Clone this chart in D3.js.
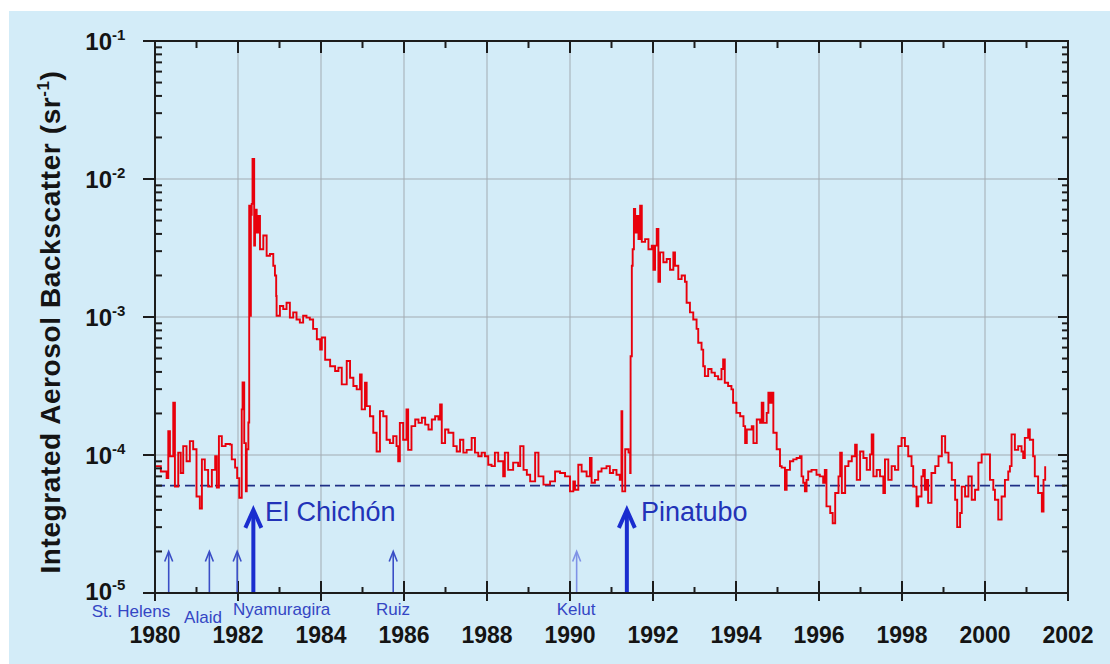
<!DOCTYPE html>
<html>
<head>
<meta charset="utf-8">
<script src="https://cdn.jsdelivr.net/npm/d3@7"></script>
<style>
  html, body { margin: 0; padding: 0; background: #ffffff; }
  svg { display: block; font-family: "Liberation Sans", Arial, sans-serif; }
</style>
</head>
<body>
<svg id="chart" width="1110" height="664"></svg>
<script>
// Stratospheric integrated aerosol backscatter record, 1980-2001
const years = [
  1980.00, 1980.14, 1980.28, 1980.32, 1980.36, 1980.44, 1980.48, 1980.56, 1980.62, 1980.68,
  1980.76, 1980.84, 1980.92, 1981.00, 1981.08, 1981.13, 1981.20, 1981.28, 1981.37, 1981.45,
  1981.49, 1981.54, 1981.61, 1981.70, 1981.81, 1981.85, 1981.93, 1981.98, 1982.03, 1982.09,
  1982.11, 1982.15, 1982.19, 1982.21, 1982.25, 1982.27, 1982.29, 1982.31, 1982.33, 1982.35,
  1982.39, 1982.41, 1982.45, 1982.49, 1982.53, 1982.61, 1982.69, 1982.77, 1982.85, 1982.89,
  1982.92, 1982.93, 1983.01, 1983.09, 1983.17, 1983.25, 1983.33, 1983.41, 1983.49, 1983.57,
  1983.65, 1983.73, 1983.81, 1983.90, 1983.98, 1984.02, 1984.10, 1984.22, 1984.34, 1984.42,
  1984.50, 1984.62, 1984.70, 1984.78, 1984.86, 1984.94, 1984.98, 1985.06, 1985.10, 1985.18,
  1985.26, 1985.34, 1985.42, 1985.50, 1985.58, 1985.66, 1985.74, 1985.82, 1985.86, 1985.90,
  1985.98, 1986.06, 1986.10, 1986.18, 1986.27, 1986.35, 1986.43, 1986.51, 1986.59, 1986.67,
  1986.75, 1986.83, 1986.87, 1986.91, 1986.99, 1987.07, 1987.19, 1987.27, 1987.35, 1987.43,
  1987.51, 1987.63, 1987.71, 1987.79, 1987.87, 1987.95, 1988.03, 1988.11, 1988.19, 1988.27,
  1988.39, 1988.43, 1988.51, 1988.63, 1988.75, 1988.80, 1988.88, 1988.96, 1989.04, 1989.16,
  1989.24, 1989.36, 1989.52, 1989.64, 1989.76, 1989.88, 1990.00, 1990.08, 1990.12, 1990.20,
  1990.28, 1990.40, 1990.48, 1990.52, 1990.60, 1990.68, 1990.76, 1990.88, 1990.96, 1991.04,
  1991.12, 1991.20, 1991.24, 1991.26, 1991.33, 1991.41, 1991.45, 1991.46, 1991.49, 1991.51,
  1991.54, 1991.57, 1991.61, 1991.65, 1991.69, 1991.73, 1991.81, 1991.89, 1991.97, 1992.01,
  1992.05, 1992.09, 1992.13, 1992.17, 1992.25, 1992.33, 1992.41, 1992.49, 1992.53, 1992.61,
  1992.69, 1992.77, 1992.81, 1992.89, 1992.97, 1993.05, 1993.09, 1993.17, 1993.21, 1993.25,
  1993.33, 1993.41, 1993.49, 1993.57, 1993.65, 1993.69, 1993.73, 1993.81, 1993.89, 1993.93,
  1994.01, 1994.10, 1994.18, 1994.22, 1994.26, 1994.38, 1994.42, 1994.50, 1994.58, 1994.62,
  1994.66, 1994.74, 1994.78, 1994.82, 1994.86, 1994.90, 1994.98, 1995.06, 1995.10, 1995.18,
  1995.22, 1995.30, 1995.38, 1995.46, 1995.54, 1995.58, 1995.62, 1995.66, 1995.70, 1995.74,
  1995.82, 1995.94, 1996.02, 1996.10, 1996.14, 1996.18, 1996.27, 1996.33, 1996.39, 1996.47,
  1996.51, 1996.55, 1996.63, 1996.71, 1996.79, 1996.87, 1996.91, 1996.99, 1997.07, 1997.15,
  1997.23, 1997.27, 1997.31, 1997.39, 1997.47, 1997.55, 1997.59, 1997.67, 1997.75, 1997.83,
  1997.91, 1997.99, 1998.07, 1998.15, 1998.23, 1998.27, 1998.35, 1998.39, 1998.47, 1998.51,
  1998.55, 1998.59, 1998.63, 1998.71, 1998.80, 1998.88, 1998.96, 1999.04, 1999.12, 1999.20,
  1999.28, 1999.33, 1999.40, 1999.44, 1999.52, 1999.60, 1999.68, 1999.76, 1999.84, 1999.92,
  2000.04, 2000.12, 2000.20, 2000.24, 2000.32, 2000.40, 2000.48, 2000.56, 2000.60, 2000.64,
  2000.72, 2000.80, 2000.88, 2000.92, 2000.96, 2001.04, 2001.08, 2001.16, 2001.20, 2001.28,
  2001.37, 2001.41, 2001.45
];

const backscatter = [
  8.3e-5, 7.6e-5, 6.8e-5, 1.49e-4, 9.8e-5, 2.39e-4, 5.9e-5, 1.04e-4, 7.4e-5, 1.16e-4,
  9.0e-5, 1.26e-4, 1.1e-4, 5.0e-5, 4.1e-5, 9.3e-5, 7.8e-5, 5.9e-5, 7.8e-5, 9.8e-5,
  5.8e-5, 1.37e-4, 1.16e-4, 1.2e-4, 1.19e-4, 9.3e-5, 8.1e-5, 6.8e-5, 4.9e-5, 2.14e-4,
  3.36e-4, 1.22e-4, 5.45e-5, 1.1e-4, 1.72e-4, 6.4e-3, 1.02e-3, 5.5e-3, 6.6e-3, 1.4e-2,
  3.3e-3, 6.0e-3, 4.1e-3, 5.4e-3, 3.1e-3, 3.9e-3, 2.78e-3, 2.86e-3, 2.35e-3, 2.0e-3,
  1.42e-3, 1.02e-3, 1.2e-3, 1.14e-3, 1.27e-3, 9.9e-4, 1.08e-3, 9.6e-4, 9.1e-4, 1.02e-3,
  9.9e-4, 9.6e-4, 8.2e-4, 6.9e-4, 5.8e-4, 7.1e-4, 4.9e-4, 4.4e-4, 4.06e-4, 4.3e-4,
  3.25e-4, 4.8e-4, 3.63e-4, 3.16e-4, 2.99e-4, 3.84e-4, 2.14e-4, 3.34e-4, 2.26e-4, 1.91e-4,
  1.45e-4, 1.06e-4, 2.08e-4, 1.91e-4, 1.29e-4, 1.22e-4, 1.37e-4, 1.16e-4, 9.0e-5, 1.71e-4,
  1.29e-4, 2.14e-4, 1.09e-4, 1.62e-4, 1.81e-4, 1.71e-4, 1.86e-4, 1.66e-4, 1.53e-4, 1.81e-4,
  1.91e-4, 1.81e-4, 2.32e-4, 1.22e-4, 1.53e-4, 1.45e-4, 1.16e-4, 1.06e-4, 1.29e-4, 1.04e-4,
  1.09e-4, 1.33e-4, 1.04e-4, 9.8e-5, 1.04e-4, 9.8e-5, 8.5e-5, 8.3e-5, 1.04e-4, 9.0e-5,
  7.0e-5, 1.04e-4, 7.8e-5, 8.8e-5, 8.3e-5, 1.16e-4, 7.8e-5, 7.2e-5, 6.44e-5, 1.04e-4,
  7.0e-5, 6.1e-5, 6.44e-5, 7.6e-5, 7.4e-5, 7.0e-5, 5.45e-5, 6.44e-5, 5.6e-5, 8.5e-5,
  7.6e-5, 7.0e-5, 9.5e-5, 6.3e-5, 6.6e-5, 7.6e-5, 8.0e-5, 8.3e-5, 7.4e-5, 7.8e-5,
  7.2e-5, 6.6e-5, 2.08e-4, 5.45e-5, 1.1e-4, 1.04e-4, 7.4e-5, 5.2e-4, 2.35e-3, 3.1e-3,
  6.07e-3, 4.1e-3, 5.4e-3, 3.67e-3, 6.4e-3, 3.5e-3, 3.67e-3, 3.1e-3, 3.29e-3, 2.2e-3,
  3.29e-3, 4.35e-3, 1.8e-3, 2.94e-3, 2.49e-3, 2.63e-3, 2.2e-3, 2.94e-3, 2.35e-3, 1.88e-3,
  2.0e-3, 1.8e-3, 1.27e-3, 1.08e-3, 9.6e-4, 8.2e-4, 6.5e-4, 5.8e-4, 4.4e-4, 3.73e-4,
  4.2e-4, 3.95e-4, 3.73e-4, 3.53e-4, 4.2e-4, 4.93e-4, 3.34e-4, 3.16e-4, 2.99e-4, 2.39e-4,
  2.02e-4, 1.91e-4, 1.62e-4, 1.22e-4, 1.53e-4, 1.62e-4, 1.22e-4, 1.81e-4, 1.71e-4, 2.39e-4,
  1.71e-4, 2.02e-4, 2.83e-4, 2.39e-4, 2.83e-4, 1.45e-4, 1.1e-4, 8.3e-5, 8.1e-5, 5.6e-5,
  7.8e-5, 9.0e-5, 9.3e-5, 9.5e-5, 9.8e-5, 7.0e-5, 6.3e-5, 5.45e-5, 6.6e-5, 7.6e-5,
  7.8e-5, 7.2e-5, 7.0e-5, 6.3e-5, 7.8e-5, 4.24e-5, 3.8e-5, 3.2e-5, 5.3e-5, 7.0e-5,
  1.04e-4, 5.3e-5, 8.3e-5, 9.0e-5, 9.8e-5, 1.19e-4, 6.6e-5, 1.06e-4, 9.5e-5, 7.8e-5,
  1.01e-4, 1.41e-4, 7.0e-5, 7.8e-5, 7.0e-5, 5.3e-5, 9.3e-5, 6.6e-5, 8.3e-5, 7.8e-5,
  1.16e-4, 1.33e-4, 1.16e-4, 9.8e-5, 8.3e-5, 5.9e-5, 4.24e-5, 5.0e-5, 7.0e-5, 7.8e-5,
  5.6e-5, 6.6e-5, 4.5e-5, 7.4e-5, 8.3e-5, 9.8e-5, 1.37e-4, 1.04e-4, 8.8e-5, 6.6e-5,
  4.74e-5, 3.0e-5, 3.8e-5, 5.9e-5, 5.0e-5, 7.0e-5, 4.74e-5, 5.6e-5, 8.8e-5, 1.01e-4,
  1.01e-4, 6.6e-5, 5.6e-5, 4.74e-5, 3.4e-5, 5.0e-5, 6.6e-5, 7.6e-5, 8.3e-5, 1.41e-4,
  1.09e-4, 1.16e-4, 1.06e-4, 9.5e-5, 1.33e-4, 1.53e-4, 1.29e-4, 9.8e-5, 7.0e-5, 5.3e-5,
  3.9e-5, 6.6e-5, 8.3e-5
];

// Background (non-volcanic) level
const backgroundLevel = 6e-5;

// Eruptions marked along the time axis
const volcanoNames   = ["St. Helens", "Alaid", "Nyamuragira", "El Chichón", "Ruiz", "Kelut", "Pinatubo"];
const eruptionYears  = [1980.33, 1981.31, 1981.98, 1982.37, 1985.74, 1990.16, 1991.37];
const arrowTipValues = [2e-5, 2e-5, 2e-5, 4e-5, 2e-5, 2e-5, 4e-5];
const majorEruption  = [false, false, false, true, false, false, true];

// Axis ticks
const xMajorTicks = d3.range(1980, 2003, 2);
const xMinorTicks = d3.range(1981, 2002, 2);
const yDecades    = [1e-5, 1e-4, 1e-3, 1e-2, 1e-1];
const yExponents  = ["-5", "-4", "-3", "-2", "-1"];

const svg = d3.select("#chart");
const W = 1110, H = 664;
const plot = { left: 155, right: 1068, top: 41, bottom: 593 };

svg.append("rect").attr("x", 0).attr("y", 0).attr("width", W).attr("height", H).attr("fill", "#ffffff");
svg.append("rect").attr("x", 9).attr("y", 11).attr("width", W - 9).attr("height", H - 11).attr("fill", "#d3ecf8");

const x = d3.scaleLinear().domain([1980, 2002]).range([plot.left, plot.right]);
const y = d3.scaleLog().domain([1e-5, 1e-1]).range([plot.bottom, plot.top]);

// minor log ticks 2..9 within each decade
const yMinorTicks = [];
for (let k = -5; k < -1; k++) for (let m = 2; m <= 9; m++) yMinorTicks.push(m * Math.pow(10, k));

const grid = svg.append("g").attr("stroke", "#a2abb2").attr("stroke-width", 1);
grid.selectAll("line.v").data(xMajorTicks.filter(d => d > 1980 && d < 2002)).join("line")
  .attr("x1", d => x(d)).attr("x2", d => x(d)).attr("y1", plot.top).attr("y2", plot.bottom);
grid.selectAll("line.h").data(yDecades.filter(d => d > 1e-5 && d < 1e-1)).join("line")
  .attr("x1", plot.left).attr("x2", plot.right).attr("y1", d => y(d)).attr("y2", d => y(d));

// background level
svg.append("line")
  .attr("x1", plot.left).attr("x2", plot.right)
  .attr("y1", y(backgroundLevel)).attr("y2", y(backgroundLevel))
  .attr("stroke", "#1f2f86").attr("stroke-width", 1.6).attr("stroke-dasharray", "10,5");

// backscatter series
const series = years.map((t, i) => ({ t, v: backscatter[i] }));
const line = d3.line().x(d => x(d.t)).y(d => y(d.v)).curve(d3.curveStepAfter);
svg.append("path").datum(series)
  .attr("fill", "none").attr("stroke", "#e8000c").attr("stroke-width", 1.9)
  .attr("stroke-linejoin", "miter").attr("d", line);

// axes
const axisColor = "#1c1c1c";
const axes = svg.append("g").attr("stroke", axisColor).attr("fill", "none");
axes.append("rect").attr("x", plot.left).attr("y", plot.top)
  .attr("width", plot.right - plot.left).attr("height", plot.bottom - plot.top).attr("stroke-width", 2);

// x ticks: bottom (inward) and top (inward)
axes.selectAll("line.xb").data(xMajorTicks).join("line")
  .attr("x1", d => x(d)).attr("x2", d => x(d)).attr("y1", plot.bottom - 12).attr("y2", plot.bottom + 8).attr("stroke-width", 2);
axes.selectAll("line.xbm").data(xMinorTicks).join("line")
  .attr("x1", d => x(d)).attr("x2", d => x(d)).attr("y1", plot.bottom - 6).attr("y2", plot.bottom).attr("stroke-width", 2);
axes.selectAll("line.xt").data(xMajorTicks).join("line")
  .attr("x1", d => x(d)).attr("x2", d => x(d)).attr("y1", plot.top).attr("y2", plot.top + 12).attr("stroke-width", 2);
axes.selectAll("line.xtm").data(xMinorTicks).join("line")
  .attr("x1", d => x(d)).attr("x2", d => x(d)).attr("y1", plot.top).attr("y2", plot.top + 7).attr("stroke-width", 2);

// y ticks: left majors outward, minors inward; right ticks inward
axes.selectAll("line.yl").data(yDecades).join("line")
  .attr("x1", plot.left - 12).attr("x2", plot.left).attr("y1", d => y(d)).attr("y2", d => y(d)).attr("stroke-width", 2);
axes.selectAll("line.ylm").data(yMinorTicks).join("line")
  .attr("x1", plot.left).attr("x2", plot.left + 7).attr("y1", d => y(d)).attr("y2", d => y(d)).attr("stroke-width", 2);
axes.selectAll("line.yr").data(yDecades).join("line")
  .attr("x1", plot.right - 10).attr("x2", plot.right).attr("y1", d => y(d)).attr("y2", d => y(d)).attr("stroke-width", 2);
axes.selectAll("line.yrm").data(yMinorTicks).join("line")
  .attr("x1", plot.right - 6).attr("x2", plot.right).attr("y1", d => y(d)).attr("y2", d => y(d)).attr("stroke-width", 2);

// x tick labels
svg.append("g").selectAll("text").data(xMajorTicks).join("text")
  .attr("x", d => x(d)).attr("y", 643).attr("text-anchor", "middle")
  .attr("font-size", 23).attr("font-weight", "bold").attr("fill", "#141414")
  .text(d => d);

// y tick labels 10^n
const yLab = svg.append("g").attr("fill", "#141414");
yDecades.forEach((d, i) => {
  const dy = d === 1e-5 ? 7 : 9;
  yLab.append("text").attr("x", 112).attr("y", y(d) + dy).attr("text-anchor", "end")
    .attr("font-size", 24).attr("font-weight", "bold").text("10");
  yLab.append("text").attr("x", 112).attr("y", y(d) + dy - 10).attr("text-anchor", "start")
    .attr("font-size", 15).attr("font-weight", "bold").text(yExponents[i]);
});

// y axis title
const yTitle = svg.append("text")
  .attr("transform", "translate(60,322) rotate(-90)")
  .attr("text-anchor", "middle").attr("font-size", 28).attr("font-weight", "bold")
  .attr("letter-spacing", 0.6).attr("fill", "#141414");
yTitle.append("tspan").text("Integrated Aerosol Backscatter (sr");
yTitle.append("tspan").attr("dy", -11).attr("font-size", 17).text("-1");
yTitle.append("tspan").attr("dy", 11).text(")");

// eruption arrows and names
const volcanoes = volcanoNames.map((name, i) => ({
  name, t: eruptionYears[i], tip: arrowTipValues[i], major: majorEruption[i]
}));
const arrows = svg.append("g").attr("fill", "none");
volcanoes.forEach(v => {
  const ax = x(v.t), ty = y(v.tip);
  const col = v.major ? "#1a2dcf" : (v.name === "Kelut" ? "#7f92e6" : "#3a4ec6");
  const w = v.major ? 4 : 1.6, hw = v.major ? 8 : 4, hh = v.major ? 18 : 10;
  arrows.append("line").attr("x1", ax).attr("x2", ax).attr("y1", plot.bottom - 1).attr("y2", ty + (v.major ? 2 : 1))
    .attr("stroke", col).attr("stroke-width", w);
  arrows.append("polyline")
    .attr("points", `${ax - hw},${ty + hh} ${ax},${ty} ${ax + hw},${ty + hh}`)
    .attr("stroke", col).attr("stroke-width", w).attr("stroke-linejoin", "miter");
});

// small names below the axis
const smallLabels = [
  { name: "St. Helens", x: 131, y: 617, anchor: "middle" },
  { name: "Alaid", x: 203, y: 623, anchor: "middle" },
  { name: "Nyamuragira", x: 233, y: 615, anchor: "start" },
  { name: "Ruiz", x: 393, y: 615, anchor: "middle" },
  { name: "Kelut", x: 576, y: 615, anchor: "middle" }
];
svg.append("g").selectAll("text").data(smallLabels).join("text")
  .attr("x", d => d.x).attr("y", d => d.y).attr("text-anchor", d => d.anchor)
  .attr("font-size", 17).attr("fill", "#3446c4").text(d => d.name);

// large names beside the major arrows
svg.append("text").attr("x", 265).attr("y", 521).attr("font-size", 27).attr("fill", "#2233b8").text("El Chichón");
svg.append("text").attr("x", 641).attr("y", 521).attr("font-size", 27).attr("fill", "#2233b8").text("Pinatubo");
</script>
</body>
</html>
